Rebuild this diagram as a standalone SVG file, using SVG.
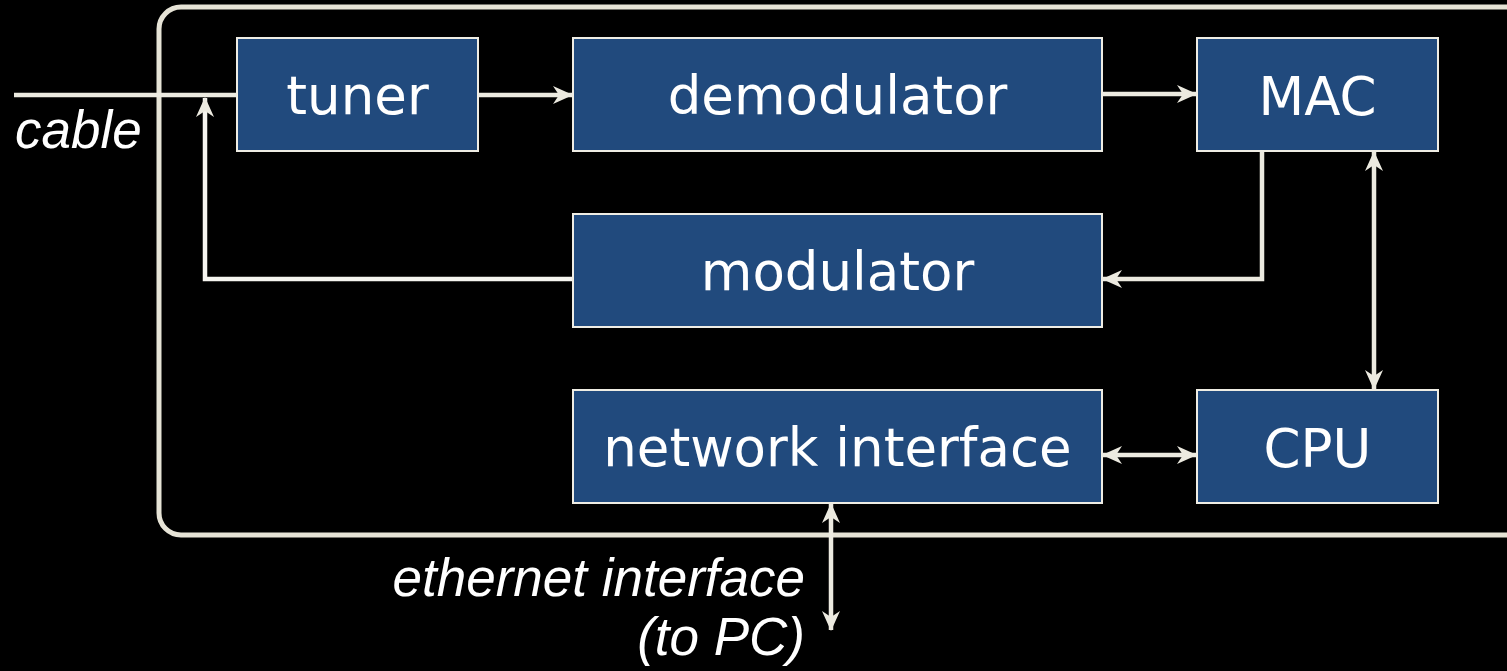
<svg xmlns="http://www.w3.org/2000/svg" width="1507" height="671" viewBox="0 0 1507 671">
<defs>
<style>
.box{fill:#214A7D;stroke:#EFEDE4;stroke-width:2}
.lbl{font-family:"DejaVu Sans",Verdana,sans-serif;font-size:53px;fill:#FFFFFF;text-anchor:middle}
.ital{font-family:"Liberation Sans",Arial,sans-serif;font-style:italic;font-size:53px;fill:#FFFFFF}
.wire{fill:none;stroke:#ECEAE0;stroke-width:4.5}
</style>
<marker id="ah" viewBox="0 0 20 20" refX="19" refY="10" markerWidth="20" markerHeight="20" markerUnits="userSpaceOnUse" orient="auto-start-reverse">
<path d="M0,1 L20,10 L0,19 L6,10 Z" fill="#ECEAE0"/>
</marker>
</defs>
<rect x="0" y="0" width="1507" height="671" fill="#000000"/>
<rect x="159" y="7" width="1380" height="528" rx="22" ry="22" fill="none" stroke="#E6E3D6" stroke-width="5"/>
<g id="connectors">
<path class="wire" d="M14,95 L237,95"/>
<path class="wire" d="M573,279 L205,279 L205,98" marker-end="url(#ah)" style="stroke:#F6F5F0"/>
<path class="wire" d="M478,95 L572,95" marker-end="url(#ah)"/>
<path class="wire" d="M1102,94 L1196,94" marker-end="url(#ah)"/>
<path class="wire" d="M1262,151 L1262,279 L1103,279" marker-end="url(#ah)"/>
<path class="wire" d="M1374,152 L1374,389" marker-start="url(#ah)" marker-end="url(#ah)"/>
<path class="wire" d="M1103,455 L1196,455" marker-start="url(#ah)" marker-end="url(#ah)"/>
<path class="wire" d="M831,504 L831,630" marker-start="url(#ah)" marker-end="url(#ah)"/>
</g>
<g id="tuner"><rect class="box" x="237" y="38" width="241" height="113"/><text class="lbl" x="357.5" y="114">tuner</text></g>
<g id="demodulator"><rect class="box" x="573" y="38" width="529" height="113"/><text class="lbl" x="837.5" y="114">demodulator</text></g>
<g id="mac"><rect class="box" x="1197" y="38" width="241" height="113"/><text class="lbl" x="1317.5" y="115">MAC</text></g>
<g id="modulator"><rect class="box" x="573" y="214" width="529" height="113"/><text class="lbl" x="837.5" y="290">modulator</text></g>
<g id="network-interface"><rect class="box" x="573" y="390" width="529" height="113"/><text class="lbl" x="837.5" y="466">network interface</text></g>
<g id="cpu"><rect class="box" x="1197" y="390" width="241" height="113"/><text class="lbl" x="1317.5" y="467">CPU</text></g>
<g id="labels">
<text class="ital" x="15" y="148">cable</text>
<text class="ital" x="805" y="596" text-anchor="end">ethernet interface</text>
<text class="ital" x="805" y="655" text-anchor="end">(to PC)</text>
</g>
</svg>
